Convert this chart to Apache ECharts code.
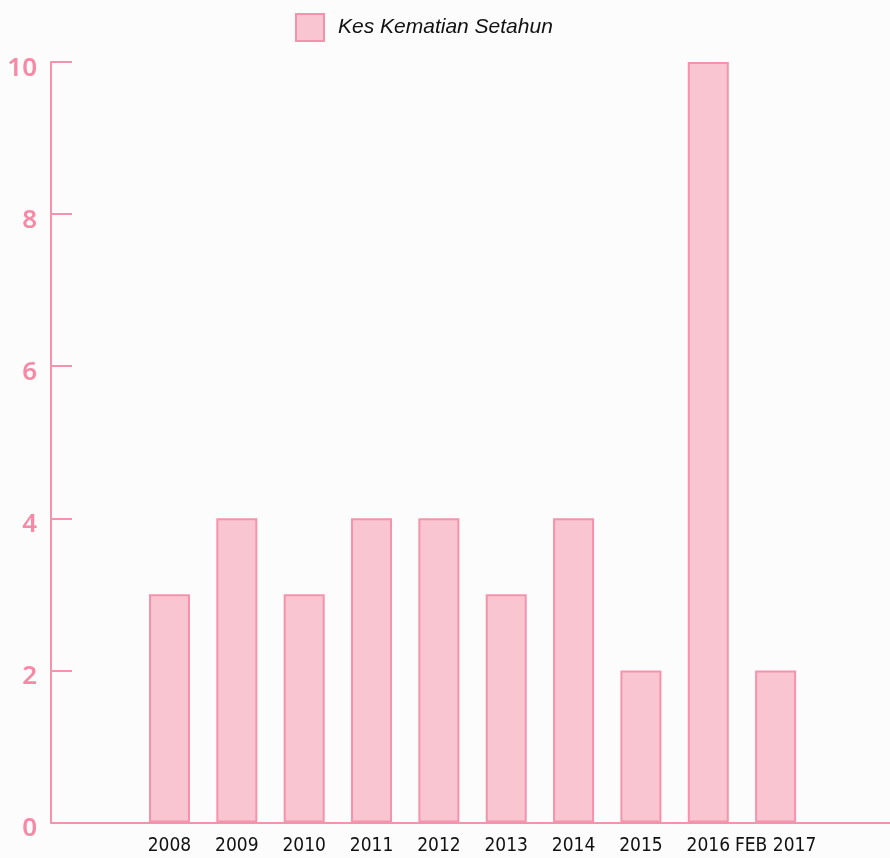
<!DOCTYPE html>
<html>
<head>
<meta charset="utf-8">
<script src="https://cdn.jsdelivr.net/npm/echarts@6/dist/echarts.min.js"></script>
<style>
html, body { margin: 0; padding: 0; background: #fdfcfc; }
#main { width: 890px; height: 858px; }
</style>
</head>
<body>
<div id="main"></div>
<script>
// data
var years = ['2008', '2009', '2010', '2011', '2012', '2013', '2014', '2015', '2016', 'FEB 2017'];
var kematian = [3, 4, 3, 4, 4, 3, 4, 2, 10, 2];
var seriesName = 'Kes Kematian Setahun';

var pink = '#f592ac';
var pinkFill = '#f9c5d0';

var myChart = echarts.init(document.getElementById('main'));

myChart.setOption({
	animation : false,
	legend : {
		left : 295,
		top : 13,
		padding : 0,
		itemWidth : 28,
		itemHeight : 27,
		icon : 'rect',
		data : [ seriesName ],
		itemStyle : {
			color : pinkFill,
			borderColor : pink,
			borderWidth : 2
		},
		textStyle : {
			fontFamily : 'Liberation Sans',
			fontStyle : 'italic',
			fontSize : 21,
			color : '#111',
			padding : [ 0, 0, 0, 9 ]
		}
	},
	grid : [ {
		left : 51,
		right : 0,
		top : 62,
		bottom : 35.5
	}, {
		left : 135.8,
		right : 80.7,
		top : 62,
		bottom : 35.5
	} ],
	xAxis : [ {
		gridIndex : 0,
		type : 'value',
		min : 0,
		max : 1,
		axisLine : { show : true, lineStyle : { color : pink, width : 2 } },
		axisTick : { show : false },
		axisLabel : { show : false },
		splitLine : { show : false }
	}, {
		gridIndex : 1,
		type : 'category',
		data : years,
		axisLine : { show : false },
		axisTick : { show : false },
		axisLabel : {
			interval : 0,
			margin : 14,
			color : '#111',
			fontFamily : 'DejaVu Sans Condensed',
			fontSize : 19
		}
	} ],
	yAxis : [ {
		gridIndex : 0,
		type : 'value',
		min : 0,
		max : 10,
		interval : 2,
		axisLine : { show : true, lineStyle : { color : pink, width : 2 } },
		axisTick : { show : true, inside : true, length : 21, lineStyle : { color : pink, width : 2 } },
		axisLabel : {
			margin : 14,
			formatter : '{a|{value}}',
			rich : {
				a : {
					color : '#f48aa6',
					fontFamily : 'Noto Sans',
					fontWeight : 600,
					fontSize : 26,
					padding : [ 13, 0, 0, 0 ]
				}
			}
		},
		splitLine : { show : false }
	}, {
		gridIndex : 1,
		type : 'value',
		min : 0,
		max : 10,
		show : false
	} ],
	series : [ {
		name : seriesName,
		type : 'bar',
		xAxisIndex : 1,
		yAxisIndex : 1,
		barWidth : 41,
		data : kematian,
		itemStyle : {
			color : pinkFill,
			borderColor : pink,
			borderWidth : 2
		}
	} ]
});
</script>
</body>
</html>
